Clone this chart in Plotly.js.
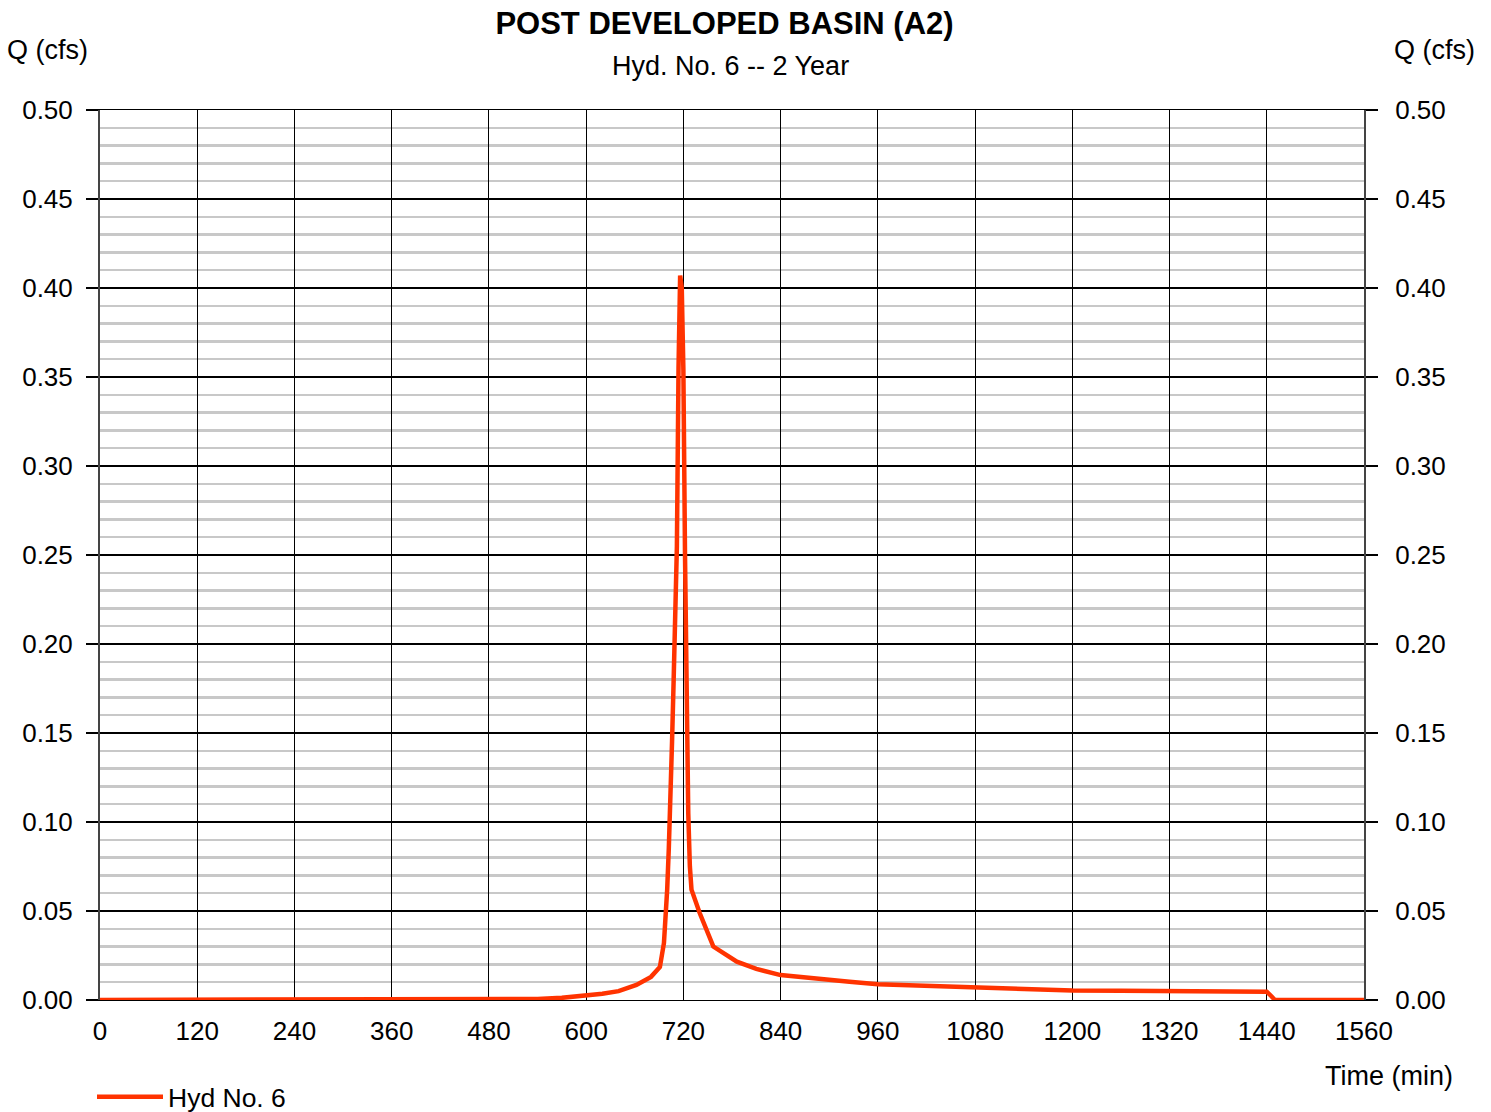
<!DOCTYPE html>
<html>
<head>
<meta charset="utf-8">
<script src="https://cdn.plot.ly/plotly-3.0.1.min.js"></script>
<style>html,body{margin:0;padding:0;background:#fff;}#chart{width:1491px;height:1112px;}</style>
</head>
<body>
<div id="chart"></div>
<script>
// Data
var timeMin = [0, 500, 540, 570, 600, 620, 640, 662, 680, 691, 696, 698, 700, 702, 704, 706, 708, 710, 712, 714, 716, 718, 720, 722, 724, 726, 728, 730, 740, 757, 786, 810, 840, 880, 925, 960, 1020, 1080, 1140, 1200, 1260, 1320, 1380, 1440, 1446, 1450, 1560];
var flowCfs = [0, 0, 0.0006, 0.0012, 0.0025, 0.0035, 0.005, 0.0085, 0.013, 0.0185, 0.032, 0.045, 0.062, 0.085, 0.11, 0.145, 0.18, 0.215, 0.255, 0.355, 0.407, 0.40, 0.354, 0.25, 0.16, 0.105, 0.075, 0.062, 0.049, 0.030, 0.0215, 0.0175, 0.014, 0.012, 0.0103, 0.0088, 0.0078, 0.0068, 0.006, 0.0054, 0.0052, 0.005, 0.0049, 0.0047, 0.002, 0, 0];
var seriesName = "Hyd No. 6";
var xTicks = [0, 120, 240, 360, 480, 600, 720, 840, 960, 1080, 1200, 1320, 1440, 1560];
var yTicks = [0, 0.05, 0.10, 0.15, 0.20, 0.25, 0.30, 0.35, 0.40, 0.45, 0.50];
var titleText = "POST DEVELOPED BASIN (A2)";
var subtitleText = "Hyd. No. 6 -- 2 Year";
var yLabel = "Q (cfs)";
var xLabel = "Time (min)";

var FONT = "Liberation Sans, Arial, sans-serif";
var lineColor = "#ff3300";

var traces = [
  {x: timeMin, y: flowCfs, type: "scatter", mode: "lines", name: seriesName,
   line: {color: lineColor, width: 4.5}, hoverinfo: "x+y"},
  {x: timeMin, y: flowCfs, type: "scatter", mode: "lines", yaxis: "y2",
   line: {color: lineColor, width: 4}, opacity: 0, showlegend: false, hoverinfo: "skip"}
];

var layout = {
  width: 1491, height: 1112,
  margin: {l: 100, r: 127, t: 110, b: 112},
  paper_bgcolor: "#fff", plot_bgcolor: "#fff",
  font: {family: FONT, color: "#000", size: 26},
  showlegend: true,
  title: {text: "<b>" + titleText + "</b>", font: {family: FONT, size: 31, color: "#000"},
          x: (724.5 - 100) / 1264, xref: "paper", xanchor: "center", y: 1 - 23/1112, yref: "container", yanchor: "middle"},
  xaxis: {
    range: [0, 1560], tickvals: xTicks, ticktext: xTicks.map(String),
    showgrid: true, gridcolor: "#000", gridwidth: 1,
    zeroline: false, ticks: "", showline: true, mirror: true, linecolor: "#000", linewidth: 1,
    tickfont: {family: FONT, size: 26, color: "#000"}, ticklabelstandoff: 8, fixedrange: true
  },
  yaxis: {
    range: [0, 0.5], tickvals: yTicks, ticktext: yTicks.map(function(v){return v.toFixed(2);}),
    showgrid: true, gridcolor: "#000", gridwidth: 1.5,
    minor: {dtick: 0.01, tick0: 0, showgrid: true, gridcolor: "#c8c8c8", gridwidth: 2.5, ticks: ""},
    zeroline: false, ticks: "outside", ticklen: 12, tickcolor: "#000", tickwidth: 1.5,
    showline: true, linecolor: "#444", linewidth: 2,
    tickfont: {family: FONT, size: 26, color: "#000"}, ticklabelstandoff: 8, fixedrange: true
  },
  yaxis2: {
    range: [0, 0.5], overlaying: "y", side: "right", tickvals: yTicks,
    ticktext: yTicks.map(function(v){return v.toFixed(2);}),
    showgrid: false, zeroline: false, ticks: "outside", ticklen: 12, tickcolor: "#000", tickwidth: 1.5,
    showline: true, linecolor: "#444", linewidth: 2,
    tickfont: {family: FONT, size: 26, color: "#000"}, ticklabelstandoff: 12, fixedrange: true
  },
  legend: {xref: "container", yref: "container", x: 92/1491, xanchor: "left", y: 1 - 1097/1112, yanchor: "middle",
           orientation: "h", font: {family: FONT, size: 26.5, color: "#000"}, bgcolor: "rgba(0,0,0,0)", itemwidth: 66},
  annotations: [
    {text: subtitleText, xref: "paper", yref: "paper", x: (730.5 - 100) / 1264, y: 1 + 44/890, xanchor: "center", yanchor: "middle",
     showarrow: false, font: {family: FONT, size: 27, color: "#000"}},
    {text: yLabel, xref: "paper", yref: "paper", x: (47.5-100)/1264, y: 1 + 60/890, xanchor: "center", yanchor: "middle",
     showarrow: false, font: {family: FONT, size: 27, color: "#000"}},
    {text: yLabel, xref: "paper", yref: "paper", x: (1434-100)/1264, y: 1 + 60/890, xanchor: "center", yanchor: "middle",
     showarrow: false, font: {family: FONT, size: 27, color: "#000"}},
    {text: xLabel, xref: "paper", yref: "paper", x: (1389-100)/1264, y: -76/890, xanchor: "center", yanchor: "middle",
     showarrow: false, font: {family: FONT, size: 27, color: "#000"}}
  ]
};

Plotly.newPlot("chart", traces, layout, {displayModeBar: false, staticPlot: true});
</script>
</body>
</html>
